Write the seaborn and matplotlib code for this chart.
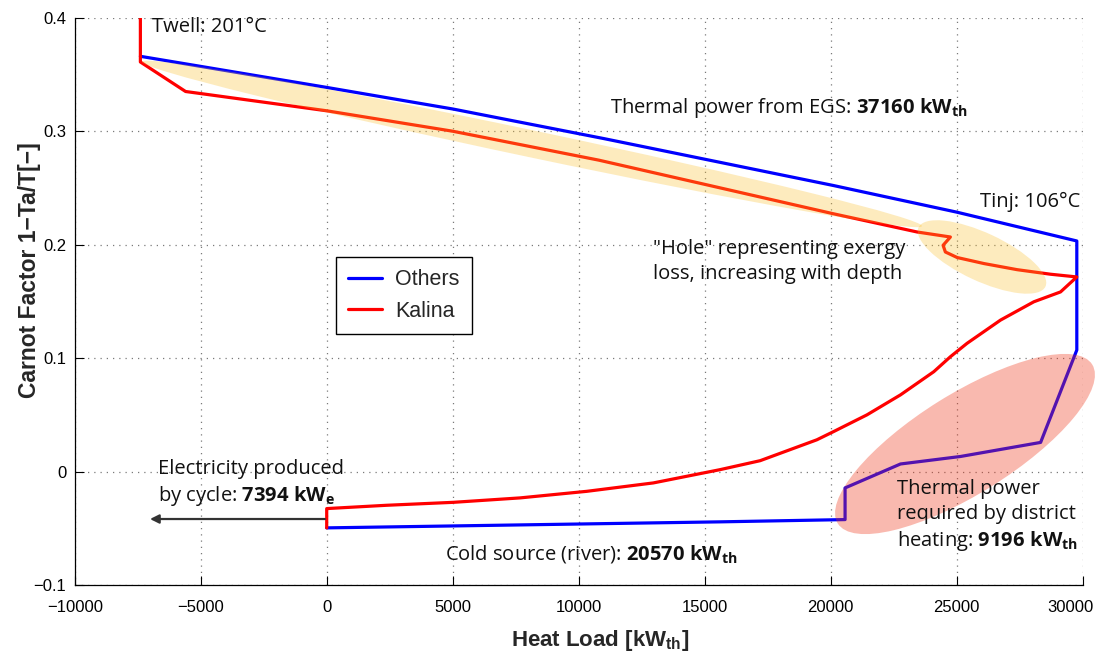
import matplotlib
matplotlib.use("Agg")
import matplotlib.pyplot as plt
import numpy as np
import pandas as pd
import seaborn as sns
from matplotlib.patches import Ellipse
from matplotlib.transforms import ScaledTranslation

# ---- data: heat load [kW_th] vs Carnot factor [-] ----
others_load = [-7394, 0, 5000, 11000, 20100, 25000, 29766,
               29766, 28330, 25150, 22770, 20570, 20570, 15600, 0]
others_carnot = [0.366, 0.3386, 0.3196, 0.2935, 0.2522, 0.2287, 0.2033,
                 0.1072, 0.0258, 0.0134, 0.0068, -0.0143, -0.0422, -0.0442, -0.0495]

kalina_load = [-7394, -7394, -5600, 0, 5000, 10800, 20100, 23430, 24750,
               24460, 24550, 25020, 26080, 27400, 28720, 29766,
               29120, 28060, 26740, 25410, 24750, 24090, 22770, 21440,
               20120, 19450, 17200, 15610, 12960, 10320, 7670, 5020,
               2370, 0, 0]
kalina_carnot = [0.400, 0.361, 0.335, 0.318, 0.300, 0.2745, 0.2273, 0.2112, 0.2068,
                 0.1995, 0.1936, 0.1887, 0.1834, 0.178, 0.174, 0.1716,
                 0.1584, 0.1497, 0.1336, 0.1131, 0.1013, 0.0881, 0.0677, 0.0501,
                 0.0354, 0.0281, 0.0097, 0.0018, -0.0099, -0.0173, -0.0231, -0.027,
                 -0.0296, -0.0325, -0.0495]

cycles = ["Others", "Kalina"]
cycle_colors = {"Others": "#0000ff", "Kalina": "#ff0000"}

xticks = [-10000, -5000, 0, 5000, 10000, 15000, 20000, 25000, 30000]
xtick_labels = ["\u221210000", "\u22125000", "0", "5000", "10000", "15000",
                "20000", "25000", "30000"]
yticks = [-0.1, 0.0, 0.1, 0.2, 0.3, 0.4]
ytick_labels = ["\u22120.1", "0", "0.1", "0.2", "0.3", "0.4"]

df = pd.concat([
    pd.DataFrame({"load": others_load, "carnot": others_carnot, "cycle": "Others"}),
    pd.DataFrame({"load": kalina_load, "carnot": kalina_carnot, "cycle": "Kalina"}),
], ignore_index=True)

# ---- style ----
sns.set_theme(style="white")
plt.rcParams["font.family"] = ["Liberation Sans", "DejaVu Sans"]
plt.rcParams["mathtext.fontset"] = "custom"
plt.rcParams["mathtext.rm"] = "Open Sans"
plt.rcParams["mathtext.it"] = "Open Sans:italic"
plt.rcParams["mathtext.bf"] = "Open Sans:bold"
plt.rcParams["mathtext.sf"] = "Liberation Sans:bold"

DPI = 100
fig = plt.figure(figsize=(10.97, 6.64), dpi=DPI)
ax = fig.add_axes([0.0681, 0.1187, 0.98697 - 0.0681, 0.9733 - 0.1187])

sns.lineplot(data=df, x="load", y="carnot", hue="cycle", hue_order=cycles,
             palette=cycle_colors, sort=False, estimator=None, lw=2.3, ax=ax)

ax.set_xlim(-10000, 30000)
ax.set_ylim(-0.1, 0.4)
ax.set_xticks(xticks, labels=xtick_labels)
ax.set_yticks(yticks, labels=ytick_labels)
ax.tick_params(direction="in", length=6.5, width=0.8, labelsize=12,
               colors="black", bottom=True, left=True, top=False, right=False)
ax.tick_params(axis="x", pad=11)
ax.tick_params(axis="y", pad=6)
ax.grid(True, color="#7a7a7a", linestyle=(0, (1, 4)), linewidth=0.9)
for side in ("top", "right"):
    ax.spines[side].set_visible(False)
for side in ("left", "bottom"):
    ax.spines[side].set_color("black")
    ax.spines[side].set_linewidth(0.9)

# keep the last x tick label inside the figure
last = ax.get_xticklabels()[-1]
last.set_transform(last.get_transform()
                   + ScaledTranslation(-9 / 72, 0, fig.dpi_scale_trans))

ax.set_xlabel("Heat Load [kW$_{\\mathsf{th}}$]", fontsize=16, fontweight="bold")
ax.set_ylabel("Carnot Factor 1\u2212Ta/T[\u2212]", fontsize=16.5, fontweight="bold")
ax.xaxis.set_label_coords(0.521, -0.075)
ax.yaxis.set_label_coords(-0.033, 0.555)

# ---- legend ----
handles, labels = ax.get_legend_handles_labels()
leg = ax.legend(handles, labels, loc="upper left", bbox_to_anchor=(0.2594, 0.578),
                borderaxespad=0, fontsize=15.5, frameon=True, fancybox=False,
                edgecolor="black", framealpha=1, handlelength=1.6,
                handletextpad=0.6, borderpad=0.55, labelspacing=0.5)
leg.get_frame().set_linewidth(1.0)
for line in leg.get_lines():
    line.set_linewidth(2.3)


# ---- highlighted regions (sizes in pixels, centred on a data point) ----
def highlight(center, w_px, h_px, angle, color, alpha):
    tr = fig.dpi_scale_trans + ScaledTranslation(center[0], center[1], ax.transData)
    e = Ellipse((0, 0), w_px / DPI, h_px / DPI, angle=angle, transform=tr,
                facecolor=color, edgecolor="none", alpha=alpha, zorder=5,
                clip_on=False)
    ax.add_patch(e)


yellow = (250 / 255, 190 / 255, 40 / 255)
highlight((8147, 0.2888), 797, 27, -11.9, yellow, 0.3)
highlight((26004, 0.1892), 140, 48, -25, yellow, 0.3)
highlight((25329, 0.0244), 300, 100, 32, (240 / 255, 55 / 255, 26 / 255), 0.35)

# ---- annotations ----
note = dict(family=["Open Sans", "DejaVu Sans"], fontsize=14.5, color="#111111", zorder=6)
ax.text(-6933, 0.3918, "Twell: 201\u00b0C", ha="left", va="center", **note)
ax.text(11242, 0.3204, "Thermal power from EGS: $\\mathbf{37160\\ kW_{th}}$",
        ha="left", va="center", **note)
ax.text(29893, 0.2376, "Tinj: 106\u00b0C", ha="right", va="center", **note)
ax.text(12964, 0.1852, "\"Hole\" representing exergy\nloss, increasing with depth",
        ha="left", va="center", linespacing=1.3, **note)
ax.text(-6694, -0.0104, "Electricity produced\nby cycle: $\\mathbf{7394\\ kW_e}$",
        ha="left", va="center", linespacing=1.3, **note)
ax.text(4694, -0.0725, "Cold source (river): $\\mathbf{20570\\ kW_{th}}$",
        ha="left", va="center", **note)
ax.text(22631, -0.039,
        "Thermal power\nrequired by district\nheating: $\\mathbf{9196\\ kW_{th}}$",
        ha="left", va="center", linespacing=1.3, **note)

ax.annotate("", xy=(-7012, -0.0417), xytext=(-70, -0.0417),
            arrowprops=dict(arrowstyle="-|>", color="#333333", lw=1.6,
                            mutation_scale=13, shrinkA=0, shrinkB=0), zorder=6)

fig.savefig("out.png", dpi=DPI)
